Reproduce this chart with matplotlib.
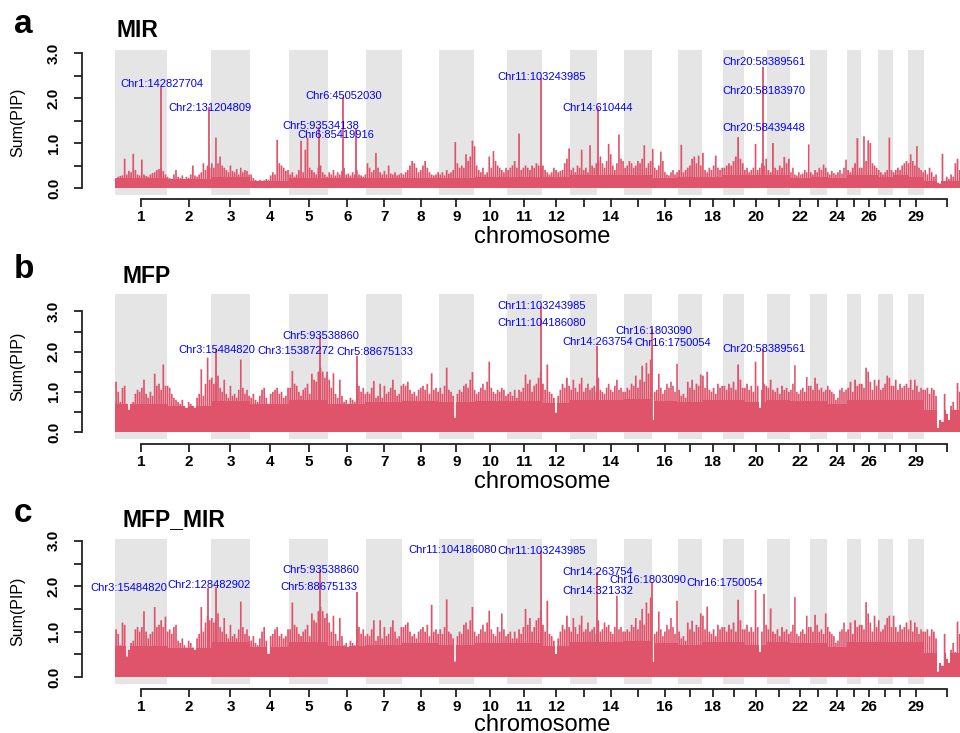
import matplotlib.pyplot as plt
import numpy as np

plt.rcParams["font.family"] = ["Liberation Sans", "DejaVu Sans"]

RED = "#DF536B"
GREY = "#E5E5E5"

# chromosome lengths (Mb), 1..29 and X
chrom_len = [158.5, 136.2, 121.0, 120.0, 120.1, 117.8, 110.7, 113.3, 105.5, 103.3,
             107.0, 87.2, 83.5, 82.4, 85.0, 81.0, 73.2, 65.8, 63.4, 72.0,
             69.9, 60.8, 52.5, 62.3, 42.4, 52.0, 45.6, 46.3, 51.1, 139.0]
chrom_ticks = ["1", "2", "3", "4", "5", "6", "7", "8", "9", "10", "11", "12", "", "14", "",
               "16", "", "18", "", "20", "", "22", "", "24", "", "26", "", "", "29", ""]

# windowed Sum(PIP) maxima, one list per chromosome
mir_pip = [
    [0.22, 0.25, 0.27, 0.28, 0.65, 0.30, 0.38, 0.35, 0.76, 0.40, 0.30, 0.28, 0.63, 0.30, 0.27, 0.25, 0.30, 0.33, 0.35, 0.40, 0.42, 0.45, 0.38, 0.30],
    [0.25, 0.22, 0.20, 0.30, 0.40, 0.25, 0.22, 0.28, 0.20, 0.25, 0.22, 0.30, 0.50, 0.28, 0.25, 0.30, 0.35, 0.55, 0.40, 0.50, 0.45],
    [0.55, 0.45, 1.12, 0.55, 0.70, 0.50, 0.45, 0.40, 0.35, 0.50, 0.38, 0.35, 0.42, 0.30, 0.45, 0.35, 0.40, 0.38, 0.30],
    [0.30, 0.22, 0.18, 0.15, 0.18, 0.15, 0.17, 0.20, 0.18, 0.28, 0.35, 0.30, 1.07, 0.55, 0.50, 0.45, 0.38, 0.40],
    [0.30, 0.35, 0.25, 0.30, 0.40, 1.05, 0.35, 0.85, 1.12, 0.45, 0.40, 0.35, 0.30, 0.45, 0.50, 0.35, 0.30, 0.25],
    [0.35, 0.30, 0.40, 0.28, 0.35, 0.30, 0.38, 0.45, 0.30, 0.32, 0.28, 0.35, 0.30, 0.40, 0.30, 0.28, 0.25, 0.30],
    [0.55, 0.45, 0.35, 0.40, 0.78, 0.45, 0.35, 0.30, 0.38, 0.30, 0.50, 0.32, 0.30, 0.35, 0.28, 0.30, 0.33],
    [0.30, 0.35, 0.40, 0.50, 0.60, 0.55, 0.45, 0.35, 0.40, 0.50, 0.60, 0.45, 0.35, 0.30, 0.28, 0.30, 0.35],
    [0.30, 0.35, 0.28, 0.40, 0.32, 0.35, 0.40, 1.02, 0.55, 0.45, 0.50, 0.45, 0.75, 0.60, 0.70, 1.05],
    [0.93, 0.50, 0.40, 0.35, 0.45, 0.30, 0.35, 0.70, 0.45, 0.82, 0.60, 0.50, 0.45, 0.40, 0.35, 0.45],
    [0.40, 0.45, 0.50, 0.60, 0.45, 1.21, 0.40, 0.45, 0.50, 0.45, 0.40, 0.50, 0.45, 0.55, 0.50, 0.45],
    [0.50, 0.40, 0.35, 0.30, 0.35, 0.45, 0.40, 0.35, 0.38, 0.40, 0.55, 0.65, 0.88],
    [0.40, 0.45, 0.35, 0.50, 0.45, 0.85, 0.40, 0.45, 0.35, 0.95, 0.50, 0.45, 0.55],
    [0.60, 0.70, 0.55, 0.45, 0.60, 0.98, 0.75, 0.50, 0.40, 0.55, 1.19, 0.65, 0.60],
    [0.45, 0.50, 0.60, 0.55, 0.45, 0.50, 0.60, 0.55, 0.65, 0.95, 0.45, 0.55, 0.60],
    [0.87, 0.45, 0.40, 0.50, 0.81, 0.60, 0.35, 0.30, 0.28, 0.35, 0.40, 0.30, 0.35],
    [0.40, 0.96, 0.35, 0.40, 0.45, 0.50, 0.65, 0.70, 0.55, 0.72, 0.50],
    [0.78, 0.40, 0.35, 0.45, 0.40, 0.50, 0.72, 0.45, 0.40, 0.45],
    [0.45, 0.50, 0.55, 0.50, 0.60, 0.70, 1.13, 0.65, 0.55],
    [0.40, 0.45, 0.35, 0.40, 0.45, 0.98, 0.40, 0.45, 0.55, 0.50, 0.65],
    [0.40, 0.35, 1.00, 0.45, 0.40, 0.50, 0.45, 0.69, 0.55, 0.65],
    [0.35, 0.45, 0.30, 0.28, 0.35, 0.30, 0.32, 0.40, 0.35, 0.97],
    [0.35, 0.30, 0.40, 0.35, 0.45, 0.40, 0.52, 0.45],
    [0.35, 0.30, 0.38, 0.33, 0.30, 0.35, 0.40, 0.32, 0.45, 0.63],
    [0.40, 0.35, 0.45, 0.55, 1.11, 0.45],
    [0.45, 1.15, 0.60, 1.06, 1.00, 0.55, 0.50, 0.45],
    [0.40, 0.35, 0.30, 0.35, 0.40, 1.12, 0.40],
    [0.35, 0.40, 0.45, 0.40, 0.50, 0.55, 0.60],
    [0.55, 0.75, 0.60, 0.50, 0.93, 0.45, 0.40, 0.35],
    [0.40, 0.30, 0.45, 0.35, 0.25, 0.30, 0.12, 0.10, 0.76, 0.15, 0.25, 0.20, 0.30, 0.25, 0.55, 0.65, 0.40, 0.35, 0.30, 0.35, 0.30],
]

mfp_pip = [
    [1.25, 1.00, 0.75, 1.10, 1.15, 0.70, 0.55, 0.70, 0.75, 0.95, 1.05, 1.00, 1.10, 1.30, 0.95, 0.85, 1.00, 0.90, 1.45, 1.15, 1.20, 1.05, 1.68, 1.15],
    [1.15, 1.10, 0.95, 0.85, 0.80, 0.75, 0.70, 0.80, 0.65, 0.60, 0.75, 0.70, 0.65, 0.60, 0.85, 0.95, 1.56, 0.90, 1.20, 1.85, 1.30],
    [1.35, 1.20, 1.25, 1.40, 1.10, 1.00, 1.30, 0.95, 0.85, 1.15, 0.90, 0.95, 0.85, 1.05, 1.80, 1.10, 0.95, 1.05, 0.90],
    [0.85, 0.95, 0.80, 0.75, 0.90, 1.05, 1.10, 0.85, 0.70, 0.95, 1.00, 1.05, 1.10, 0.95, 1.00, 0.85, 0.90, 1.10],
    [1.10, 1.52, 1.20, 1.15, 1.00, 0.90, 1.05, 1.10, 1.20, 0.95, 1.45, 1.30, 1.25, 1.50, 1.60, 1.50, 1.35, 1.50],
    [1.30, 1.10, 1.46, 0.95, 0.85, 1.30, 0.90, 0.75, 0.80, 0.70, 0.85, 0.80, 0.75, 1.20, 1.15, 1.00, 1.10, 0.95],
    [1.00, 0.95, 1.10, 1.27, 0.85, 0.90, 1.20, 0.85, 1.15, 0.95, 1.00, 1.10, 1.30, 1.05, 0.90, 0.95, 1.15],
    [1.20, 1.15, 1.25, 1.05, 0.95, 1.00, 0.90, 1.05, 1.10, 1.15, 1.05, 1.20, 0.95, 1.46, 1.05, 1.10, 1.00],
    [1.10, 0.95, 1.15, 1.60, 1.05, 1.00, 0.90, 0.35, 0.95, 1.05, 1.00, 1.15, 1.20, 1.10, 1.30, 1.49],
    [1.05, 0.95, 1.00, 1.10, 1.20, 1.05, 1.25, 1.75, 1.10, 1.00, 0.95, 1.05, 1.00, 1.10, 1.05, 0.90],
    [0.95, 1.00, 0.90, 1.05, 0.85, 1.05, 1.00, 1.10, 1.43, 1.20, 1.30, 1.00, 1.15, 1.20, 1.35, 1.50],
    [1.20, 1.05, 1.68, 1.00, 0.95, 0.85, 0.48, 0.90, 1.05, 1.20, 1.10, 1.35, 1.15],
    [1.05, 1.30, 1.10, 1.00, 1.20, 1.35, 1.00, 1.10, 1.20, 1.05, 1.10, 1.15, 1.00],
    [1.35, 1.05, 1.00, 0.95, 1.10, 1.20, 1.05, 1.00, 1.15, 1.30, 1.05, 1.10, 1.00],
    [1.00, 1.10, 1.05, 1.20, 1.15, 1.40, 1.10, 1.30, 1.65, 1.25, 1.72, 1.45, 1.80],
    [0.30, 1.00, 1.05, 1.45, 1.10, 0.95, 1.05, 1.20, 1.10, 1.25, 1.15, 1.00, 1.70],
    [1.05, 0.90, 0.95, 0.85, 1.25, 1.10, 1.30, 1.05, 1.20, 1.15, 1.43],
    [1.40, 1.10, 1.50, 1.05, 1.00, 1.10, 0.95, 1.20, 1.10, 1.15],
    [1.15, 1.05, 1.20, 1.10, 1.25, 1.05, 1.68, 1.30, 1.10],
    [1.10, 1.20, 1.05, 1.15, 1.00, 1.75, 1.15, 0.60, 1.05, 1.20, 1.15],
    [1.10, 1.30, 1.05, 1.00, 1.10, 0.95, 1.15, 1.05, 1.10, 1.00],
    [1.05, 1.20, 1.66, 1.00, 0.95, 1.05, 1.10, 1.00, 1.37, 1.15],
    [1.15, 1.05, 1.35, 1.20, 1.05, 1.10, 1.00, 1.05],
    [1.15, 1.05, 1.00, 0.95, 0.80, 0.85, 1.05, 1.10, 1.00, 1.05],
    [1.10, 1.25, 1.00, 1.30, 1.15, 1.20],
    [1.20, 1.10, 1.60, 1.50, 1.25, 1.05, 1.30, 1.15],
    [1.30, 1.05, 1.10, 1.20, 1.40, 1.35, 1.15],
    [1.15, 1.30, 1.05, 1.20, 1.10, 1.15, 1.20],
    [1.10, 1.30, 1.05, 1.30, 1.15, 1.00, 1.10, 1.05],
    [1.05, 1.10, 0.95, 1.10, 1.05, 0.90, 0.10, 0.30, 0.25, 0.95, 0.45, 0.30, 0.65, 0.75, 0.55, 1.22, 1.00, 0.95, 1.05, 0.90, 1.00],
]

mfp_mir_pip = [
    [1.05, 0.95, 0.70, 1.20, 1.15, 0.45, 0.60, 0.75, 0.80, 1.05, 1.10, 1.00, 1.10, 1.45, 1.00, 0.85, 0.95, 1.00, 1.54, 1.10, 1.15, 1.25, 1.10, 1.33],
    [1.00, 1.05, 0.95, 1.10, 1.15, 0.80, 0.75, 0.85, 0.70, 0.65, 0.80, 0.75, 0.65, 0.60, 0.85, 0.95, 1.54, 1.00, 1.20, 1.35, 1.25],
    [1.30, 1.20, 1.25, 1.40, 1.10, 1.00, 1.30, 0.95, 0.85, 1.15, 0.90, 0.95, 0.85, 1.05, 1.66, 1.10, 0.95, 1.05, 0.90],
    [0.80, 0.90, 0.75, 0.70, 0.85, 1.00, 1.10, 0.80, 0.50, 0.90, 0.95, 1.05, 1.10, 0.90, 0.95, 0.85, 0.90, 1.05],
    [1.05, 1.64, 1.15, 1.10, 0.95, 0.90, 1.00, 1.05, 1.15, 0.90, 1.40, 1.25, 1.20, 1.45, 1.55, 1.45, 1.30, 1.40],
    [1.20, 1.00, 1.35, 0.95, 0.80, 1.30, 0.90, 0.70, 0.75, 0.65, 0.80, 0.75, 0.70, 1.15, 1.10, 0.95, 1.05, 0.90],
    [0.95, 0.90, 1.05, 1.25, 0.80, 0.90, 1.25, 0.85, 1.10, 0.90, 0.95, 1.10, 1.25, 1.00, 0.85, 0.90, 1.10],
    [1.10, 1.15, 1.20, 1.00, 0.90, 0.95, 0.85, 1.00, 1.05, 1.10, 1.00, 1.15, 0.90, 1.59, 1.00, 1.05, 0.95],
    [1.05, 0.95, 1.10, 1.71, 1.00, 0.95, 0.85, 0.34, 0.90, 1.00, 0.95, 1.15, 1.20, 1.05, 1.25, 1.54],
    [1.00, 0.90, 0.95, 1.05, 1.15, 1.00, 1.20, 1.46, 1.05, 0.95, 0.90, 1.10, 1.00, 1.40, 1.05, 0.90],
    [0.95, 1.00, 0.85, 1.00, 0.85, 1.05, 0.95, 1.10, 1.50, 1.15, 1.30, 1.00, 1.10, 1.25, 1.30, 1.45],
    [1.15, 1.00, 1.68, 0.95, 0.90, 0.80, 0.50, 0.85, 1.00, 1.15, 1.05, 1.35, 1.10],
    [1.00, 1.30, 1.10, 0.95, 1.15, 1.35, 1.00, 1.05, 1.20, 1.00, 1.05, 1.10, 0.95],
    [1.25, 1.00, 1.05, 1.20, 1.10, 1.15, 1.00, 0.95, 1.10, 1.79, 1.05, 1.10, 1.00],
    [1.00, 1.05, 1.00, 1.15, 1.10, 1.30, 1.05, 1.25, 1.50, 1.15, 1.64, 1.40, 1.75],
    [0.32, 0.95, 1.00, 1.44, 1.05, 0.90, 1.00, 1.15, 1.05, 1.30, 1.10, 0.95, 1.68],
    [1.00, 0.85, 0.90, 0.80, 1.20, 1.05, 1.24, 1.00, 1.15, 1.10, 1.40],
    [1.35, 1.05, 1.55, 1.00, 0.95, 1.05, 0.90, 1.15, 1.05, 1.10],
    [1.10, 1.00, 1.15, 1.05, 1.20, 1.00, 1.70, 1.25, 1.05],
    [1.05, 1.15, 1.00, 1.10, 1.00, 1.92, 1.10, 0.55, 1.00, 1.83, 1.15],
    [1.05, 1.51, 1.00, 0.95, 1.05, 0.90, 1.10, 1.00, 1.05, 0.95],
    [1.00, 1.15, 1.76, 0.95, 0.90, 1.00, 1.05, 0.95, 1.35, 1.10],
    [1.10, 1.00, 1.37, 1.15, 1.00, 1.05, 0.95, 1.40],
    [1.10, 1.00, 0.95, 0.90, 0.75, 0.80, 1.00, 1.05, 1.20, 1.00],
    [1.05, 1.20, 0.95, 1.25, 1.10, 1.15],
    [1.15, 1.05, 1.65, 1.40, 1.20, 1.00, 1.35, 1.10],
    [1.25, 1.00, 1.05, 1.15, 1.30, 1.35, 1.10],
    [1.35, 1.10, 1.00, 1.15, 1.05, 1.10, 1.20],
    [1.05, 1.25, 1.00, 1.20, 1.10, 0.95, 1.05, 1.00],
    [1.00, 1.05, 0.90, 1.05, 1.00, 0.85, 0.12, 0.30, 0.25, 0.95, 0.40, 0.30, 0.60, 0.75, 0.55, 1.22, 0.95, 0.90, 1.00, 0.85, 0.95],
]

# solid background level of Sum(PIP) per chromosome (1..29, X)
mir_floor = [0.22, 0.20, 0.25, 0.15, 0.22, 0.22, 0.22, 0.22, 0.22, 0.25,
             0.25, 0.25, 0.28, 0.30, 0.30, 0.22, 0.25, 0.25, 0.30, 0.28,
             0.28, 0.22, 0.25, 0.22, 0.28, 0.28, 0.25, 0.28, 0.25, 0.15]
mfp_floor = [0.70, 0.64, 0.78, 0.70, 0.80, 0.70, 0.74, 0.78, 0.74, 0.78,
             0.78, 0.72, 0.80, 0.80, 0.82, 0.78, 0.74, 0.80, 0.80, 0.74,
             0.80, 0.78, 0.78, 0.70, 0.80, 0.80, 0.80, 0.80, 0.80, 0.55]
mfp_mir_floor = [0.68, 0.64, 0.76, 0.66, 0.76, 0.68, 0.70, 0.75, 0.70, 0.75,
                 0.75, 0.68, 0.76, 0.76, 0.80, 0.75, 0.70, 0.76, 0.76, 0.70,
                 0.76, 0.75, 0.75, 0.66, 0.76, 0.76, 0.76, 0.76, 0.76, 0.52]

# top single-SNP spikes: chromosome, position (Mb), Sum(PIP)
mir_peak_chr = [1, 2, 5, 6, 6, 11, 14, 20]
mir_peak_pos = [142.83, 131.20, 93.53, 45.05, 85.42, 103.24, 0.61, 58.39]
mir_peak_pip = [2.24, 1.79, 1.36, 2.02, 1.32, 2.45, 1.78, 2.69]

mfp_peak_chr = [3, 5, 6, 11, 14, 16, 20]
mfp_peak_pos = [15.48, 93.54, 87.9, 103.24, 0.26, 1.80, 58.39]
mfp_peak_pip = [2.06, 2.38, 1.90, 3.14, 2.14, 2.55, 2.06]

mfp_mir_peak_chr = [2, 3, 5, 6, 11, 14, 16]
mfp_mir_peak_pos = [128.48, 15.48, 93.54, 87.9, 103.24, 0.26, 1.80]
mfp_mir_peak_pip = [1.95, 1.99, 2.36, 1.88, 2.78, 2.32, 2.10]

# SNP labels
mir_snps = ["Chr1:142827704", "Chr2:131204809", "Chr5:93534138", "Chr6:85419916", "Chr6:45052030",
            "Chr11:103243985", "Chr14:610444", "Chr20:58389561", "Chr20:58183970", "Chr20:58439448"]
mfp_snps = ["Chr3:15484820", "Chr3:15387272", "Chr5:93538860", "Chr5:88675133", "Chr11:103243985",
            "Chr11:104186080", "Chr14:263754", "Chr16:1803090", "Chr16:1750054", "Chr20:58389561"]
mfp_mir_snps = ["Chr3:15484820", "Chr2:128482902", "Chr5:93538860", "Chr5:88675133", "Chr11:104186080",
                "Chr11:103243985", "Chr14:263754", "Chr14:321332", "Chr16:1803090", "Chr16:1750054"]

# where the labels sit (cumulative Mb, Sum(PIP)), as placed in the figure
mir_lab_x = [144.6, 290.8, 632.3, 680.0, 704.6, 1312.3, 1486.2, 1995.4, 1995.4, 1995.4]
mir_lab_y = [2.31, 1.78, 1.38, 1.18, 2.04, 2.47, 1.78, 2.80, 2.16, 1.33]
mfp_lab_x = [313.8, 555.4, 632.3, 800.0, 1312.3, 1313.8, 1486.2, 1657.5, 1716.0, 1995.4]
mfp_lab_y = [2.05, 2.01, 2.40, 1.98, 3.13, 2.70, 2.24, 2.52, 2.21, 2.07]
mfp_mir_lab_x = [43.1, 289.2, 632.3, 627.7, 1038.5, 1313.2, 1486.2, 1486.2, 1640.0, 1875.4]
mfp_mir_lab_y = [1.97, 2.02, 2.36, 1.99, 2.80, 2.77, 2.32, 1.90, 2.13, 2.06]

W, H = 960, 733
fig = plt.figure(figsize=(W / 100, H / 100), dpi=100)

starts = np.concatenate([[0], np.cumsum(chrom_len)[:-1]])
centers = starts + np.array(chrom_len) / 2
PX_PER_MB = 0.325
X0 = 115  # pixel where chromosome 1 starts


def px_axes(top, bottom, zero_px, per_unit):
    left, right = 82, 1003
    ax = fig.add_axes([left / W, 1 - bottom / H, (right - left) / W, (bottom - top) / H])
    ax.set_xlim((left - X0) / PX_PER_MB, (right - X0) / PX_PER_MB)
    ax.set_ylim(-(bottom - zero_px) / per_unit, (zero_px - top) / per_unit)
    return ax


def draw_panel(ax, pip, floor, peak_chr, peak_pos, peak_pip, snps, lab_x, lab_y, gap):
    for i in range(0, 29, 2):
        ax.axvspan(starts[i], starts[i] + chrom_len[i], color=GREY, lw=0, zorder=0)

    edges = [0.0]
    base = []
    xs, hs, ws = [], [], []
    for s, L, v, f in zip(starts, chrom_len, pip, floor):
        e = s + np.linspace(0, L, len(v) + 1)
        edges.extend(e[1:])
        base.extend(np.minimum(v, f))
        xs.extend((e[:-1] + e[1:]) / 2)
        hs.extend(v)
        ws.append(np.full(len(v), 0.8 * L / len(v)))
    ax.stairs(base, edges, fill=True, color=RED, lw=0, zorder=2)
    ax.bar(xs, hs, width=np.concatenate(ws), color=RED, edgecolor="none", lw=0,
           snap=False, zorder=2)

    px = [starts[c - 1] + p for c, p in zip(peak_chr, peak_pos)]
    ax.vlines(px, 0, peak_pip, color=RED, lw=1.3, zorder=3)

    for t, x, y in zip(snps, lab_x, lab_y):
        ax.text(x, y, t, color="blue", fontsize=8, ha="center", va="center", zorder=4)

    for side in ["top", "right"]:
        ax.spines[side].set_visible(False)
    ax.spines["left"].set_bounds(0, 3)
    ax.spines["bottom"].set_bounds(centers[0], centers[-1])
    ax.spines["bottom"].set_position(("outward", gap * 0.72))
    for side in ["left", "bottom"]:
        ax.spines[side].set_linewidth(1.3)
        ax.spines[side].set_color("#222222")

    ax.set_xticks(centers)
    ax.set_xticklabels(chrom_ticks, fontsize=11, fontweight="bold")
    ax.set_yticks([0, 0.5, 1, 1.5, 2, 2.5, 3])
    ax.set_yticklabels(["0.0", "", "1.0", "", "2.0", "", "3.0"], fontsize=11,
                       fontweight="bold", rotation=90, va="center", ha="center")
    ax.tick_params(axis="both", direction="out", length=5.8, width=1.3, color="#222222")
    ax.tick_params(axis="x", pad=2)
    ax.tick_params(axis="y", pad=14.4)


def ftext(x, y, s, **kw):
    fig.text(x / W, 1 - y / H, s, **kw)


panels = [
    # top, bottom, zero px, px per unit, axis gap, letter, title, letter y, title y, title x
    (50, 195, 188, 45.0, 4, "a", "MIR", 33, 37, 117,
     mir_pip, mir_floor, mir_peak_chr, mir_peak_pos, mir_peak_pip, mir_snps, mir_lab_x, mir_lab_y),
    (294, 439, 432, 40.2, 5, "b", "MFP", 278, 283, 122,
     mfp_pip, mfp_floor, mfp_peak_chr, mfp_peak_pos, mfp_peak_pip, mfp_snps, mfp_lab_x, mfp_lab_y),
    (539, 684, 677, 45.4, 5, "c", "MFP_MIR", 522, 526, 123,
     mfp_mir_pip, mfp_mir_floor, mfp_mir_peak_chr, mfp_mir_peak_pos, mfp_mir_peak_pip,
     mfp_mir_snps, mfp_mir_lab_x, mfp_mir_lab_y),
]

for (top, bottom, zero, per, gap, letter, title, let_y, tit_y, tit_x,
     pip, floor, pc, pp, ph, snps, lx, ly) in panels:
    ax = px_axes(top, bottom, zero, per)
    draw_panel(ax, pip, floor, pc, pp, ph, snps, lx, ly, gap)
    ftext(14, let_y, letter, fontsize=24, fontweight="bold", va="baseline", ha="left")
    ftext(tit_x, tit_y, title, fontsize=16.5, fontweight="bold", va="baseline", ha="left")
    ftext(18, (top + bottom) / 2, "Sum(PIP)", fontsize=11.5, rotation=90, va="center", ha="center")
    ftext(542.5, min(bottom + gap + 44, H - 2), "chromosome", fontsize=17, va="baseline", ha="center")

fig.savefig("out.png", dpi=100)
